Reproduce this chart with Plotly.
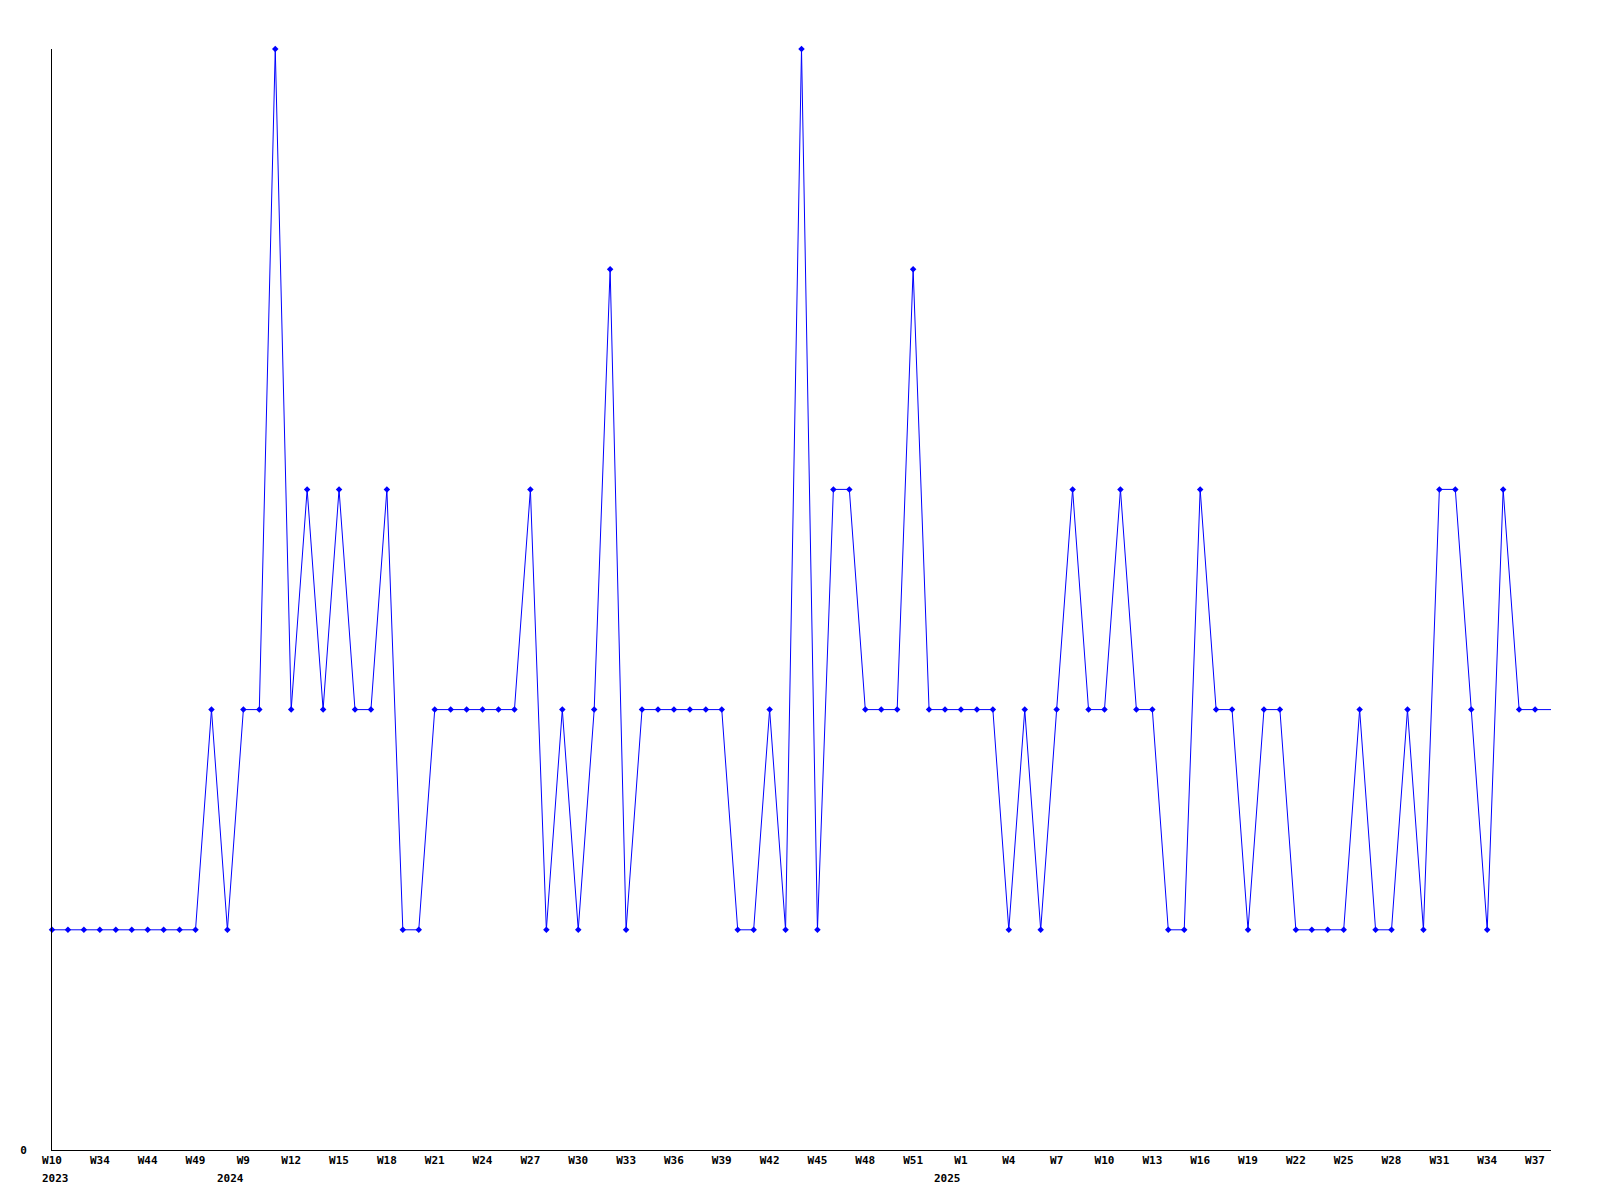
import plotly.graph_objects as go

values = [1, 1, 1, 1, 1, 1, 1, 1, 1, 1,
          2, 1, 2, 2, 5, 2, 3, 2, 3, 2,
          2, 3, 1, 1, 2, 2, 2, 2, 2, 2,
          3, 1, 2, 1, 2, 4, 1, 2, 2, 2,
          2, 2, 2, 1, 1, 2, 1, 5, 1, 3,
          3, 2, 2, 2, 4, 2, 2, 2, 2, 2,
          1, 2, 1, 2, 3, 2, 2, 3, 2, 2,
          1, 1, 3, 2, 2, 1, 2, 2, 1, 1,
          1, 1, 2, 1, 1, 2, 1, 3, 3, 2,
          1, 3, 2, 2, 2]

tick_index = [0, 3, 6, 9, 12, 15, 18, 21, 24, 27, 30, 33, 36, 39, 42, 45,
              48, 51, 54, 57, 60, 63, 66, 69, 72, 75, 78, 81, 84, 87, 90, 93]
tick_labels = ["W10", "W34", "W44", "W49", "W9", "W12", "W15", "W18", "W21",
               "W24", "W27", "W30", "W33", "W36", "W39", "W42", "W45", "W48",
               "W51", "W1", "W4", "W7", "W10", "W13", "W16", "W19", "W22",
               "W25", "W28", "W31", "W34", "W37"]
year_index = [0, 12, 57]
year_labels = ["2023", "2024", "2025"]
year_shift = [3, -13, -13]

x = list(range(len(values)))
font = dict(family="DejaVu Sans Mono", size=11, color="black")

fig = go.Figure()
# line through all points
fig.add_trace(go.Scatter(
    x=x, y=values, mode="lines",
    line=dict(color="#0000ff", width=1),
    cliponaxis=False, hoverinfo="skip", showlegend=False,
))
# markers on every point except the last one at the right edge
fig.add_trace(go.Scatter(
    x=x[:-1], y=values[:-1], mode="markers",
    marker=dict(symbol="diamond", size=5, color="#0000ff"),
    cliponaxis=False, hoverinfo="skip", showlegend=False,
))

for xi, lab, sh in zip(year_index, year_labels, year_shift):
    fig.add_annotation(x=xi, y=0, xref="x", yref="paper", text="<b>%s</b>" % lab,
                       showarrow=False, xshift=sh, yshift=-28, yanchor="middle",
                       font=font)

fig.update_layout(
    width=1600, height=1200,
    margin=dict(l=42, r=57, t=41, b=58),
    paper_bgcolor="white", plot_bgcolor="white",
    xaxis=dict(range=[0, len(values) - 1], tickvals=tick_index,
               ticktext=["<b>%s</b>" % t for t in tick_labels],
               showgrid=False, zeroline=False, showline=True, linecolor="black",
               linewidth=1, ticks="", tickfont=font, tickangle=0),
    yaxis=dict(range=[0, 5], tickvals=[0], ticktext=["<b>0</b>"],
               showgrid=False, zeroline=False, showline=True, linecolor="black",
               linewidth=1, ticks="", tickfont=font, ticklabelstandoff=22),
)

fig.write_html("out.html")
